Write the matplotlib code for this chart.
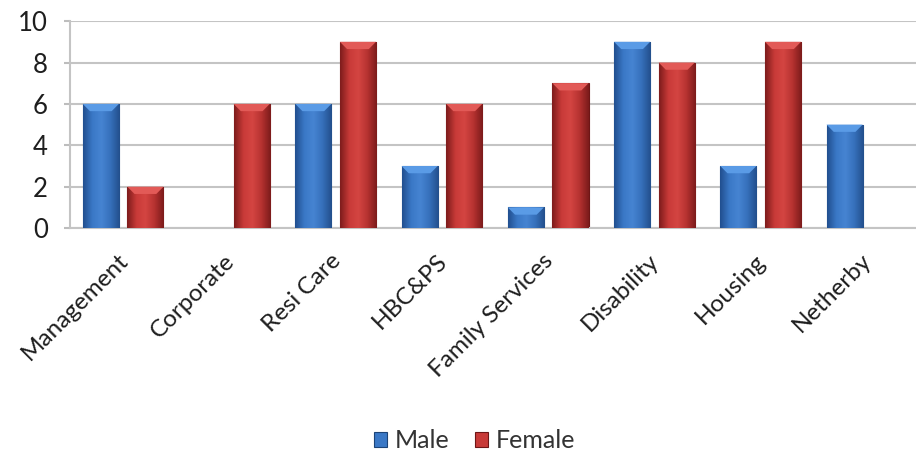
import numpy as np
import matplotlib
matplotlib.use('Agg')
import matplotlib.pyplot as plt
import matplotlib.transforms as mtransforms
from matplotlib.colors import LinearSegmentedColormap

categories = ['Management', 'Corporate', 'Resi Care', 'HBC&PS', 'Family Services',
              'Disability', 'Housing', 'Netherby']
male = [6, 0, 6, 3, 1, 9, 3, 5]
female = [2, 6, 9, 6, 7, 8, 9, 0]
yticks = [0, 2, 4, 6, 8, 10]

plt.rcParams['font.family'] = ['Lato', 'DejaVu Sans']

fig = plt.figure(figsize=(9.16, 4.59), dpi=100)
ax = fig.add_axes([0.0764, 0.503, 0.928, 0.451])

x = np.arange(len(categories))
w = 0.34
off = 0.21

blue_cmap = LinearSegmentedColormap.from_list(
    'b', ['#214f8f', '#3a78c6', '#4684d2', '#3670bb', '#234f8c'])
red_cmap = LinearSegmentedColormap.from_list(
    'r', ['#7e1c1c', '#c83a38', '#d44542', '#b63230', '#7c1b1b'])

grad = np.linspace(0, 1, 64).reshape(1, -1)


def shade(bars, cmap, top_col, edge):
    for b in bars:
        h = b.get_height()
        if h <= 0:
            continue
        x0 = b.get_x()
        bw = b.get_width()
        im = ax.imshow(grad, cmap=cmap, extent=[x0, x0 + bw, 0, h],
                       aspect='auto', zorder=3, interpolation='bicubic')
        im.set_clip_path(b)
        # bevel on top
        ax.fill([x0, x0 + bw, x0 + bw * 0.8, x0 + bw * 0.2],
                [h, h, h - 0.35, h - 0.35], color=top_col, zorder=4, lw=0)
        b.set_edgecolor(edge)


mb = ax.bar(x - off, male, w, color='#3a78c6', linewidth=0.8, zorder=2)
fb = ax.bar(x + off, female, w, color='#c83a38', linewidth=0.8, zorder=2)
shade(mb, blue_cmap, '#5a9be6', '#1c4478')
shade(fb, red_cmap, '#e25a57', '#6e1616')

ax.set_xlim(-0.5, len(categories) - 0.5)
ax.set_ylim(0, 10)
ax.set_yticks(yticks)
ax.set_xticks(x)
ax.set_xticklabels(categories, rotation=45, ha='right', rotation_mode='anchor',
                   fontsize=17.5, color='#1e1e1e')
ax.tick_params(axis='x', length=0, pad=10)
ax.tick_params(axis='y', length=4, color='#bdbdbd', width=1.5, labelsize=18.5,
               labelcolor='#1e1e1e', pad=12)
# nudge the rotated labels a bit left and down
shift = mtransforms.ScaledTranslation(-0.06, -0.08, fig.dpi_scale_trans)
for lab in ax.get_xticklabels():
    lab.set_transform(lab.get_transform() + shift)

ax.grid(axis='y', color='#c4c4c4', linewidth=1.5, zorder=0)
ax.set_axisbelow(True)
for s in ['top', 'right']:
    ax.spines[s].set_visible(False)
for s in ['left', 'bottom']:
    ax.spines[s].set_color('#c4c4c4')
    ax.spines[s].set_linewidth(1.5)

leg = fig.legend([mb, fb], ['Male', 'Female'], loc='center', ncol=2,
                 bbox_to_anchor=(0.518, 0.04), frameon=False, fontsize=18,
                 handlelength=0.55, handleheight=0.55, columnspacing=1.0,
                 handletextpad=0.3)
for t in leg.get_texts():
    t.set_color('#333333')

fig.savefig('out.png', dpi=100)
